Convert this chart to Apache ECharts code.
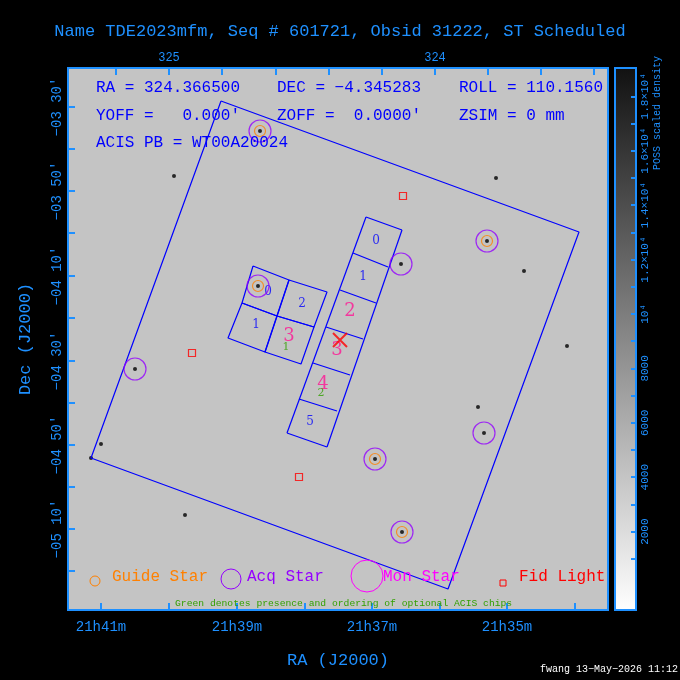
<!DOCTYPE html>
<html>
<head>
<meta charset="utf-8">
<script src="https://cdn.jsdelivr.net/npm/echarts@6/dist/echarts.min.js"></script>
<style>
  html, body { margin: 0; padding: 0; background: #000; }
  #chart { width: 680px; height: 680px; }
</style>
</head>
<body>
<div id="chart"></div>
<script>
// everything below is in image-pixel units of the plot (0,0 = top-left of the field)
const OX = 68, OY = 68;
const px = (p) => [p[0] - OX, p[1] - OY];

// field of view outline
const fovBox = [[221, 101], [579, 232], [448, 589], [91, 458]];

// ACIS-I chips (0,2 top row; 1,3 bottom row)
const acisI = [
  [[253, 266], [289, 280], [277, 316], [242, 303]],
  [[242, 303], [277, 316], [265, 352], [228, 338]],
  [[289, 280], [327, 292], [314, 327], [277, 316]],
  [[277, 316], [314, 327], [301, 364], [265, 352]],
];
// ACIS-S strip dividers (left, right) from chip 0 top to chip 5 bottom
const acisSEdges = [
  [[366, 217], [402, 230]],
  [[353, 253], [388, 267]],
  [[340, 290], [376, 303]],
  [[326, 327], [363, 339]],
  [[313, 363], [350, 375]],
  [[299, 399], [337, 411]],
  [[287, 433], [327, 447]],
];

const chipLabels = [
  { name: "0", at: [268, 292], color: "#0000ff", size: 12 },
  { name: "2", at: [302, 304], color: "#0000ff", size: 12 },
  { name: "1", at: [256, 325], color: "#0000ff", size: 12 },
  { name: "3", at: [289, 336], color: "#ff1493", size: 18 },
  { name: "1", at: [286, 347], color: "#32a000", size: 11 },
  { name: "0", at: [376, 241], color: "#0000ff", size: 12 },
  { name: "1", at: [363, 277], color: "#0000ff", size: 12 },
  { name: "2", at: [350, 311], color: "#ff1493", size: 18 },
  { name: "3", at: [337, 350], color: "#ff1493", size: 18 },
  { name: "4", at: [323, 384], color: "#ff1493", size: 18 },
  { name: "2", at: [321, 393], color: "#32a000", size: 11 },
  { name: "5", at: [310, 422], color: "#0000ff", size: 12 },
];

const acqStars = [[260, 131], [487, 241], [401, 264], [258, 286], [135, 369], [484, 433], [375, 459], [402, 532]];
const guideStars = [[260, 131], [487, 241], [258, 286], [375, 459], [402, 532]];
const fidLights = [[403, 196], [192, 353], [299, 477]];
const aimPoint = [[340, 340]];
const brightStars = [[260, 131], [487, 241], [258, 286], [375, 459], [402, 532], [567, 346], [91, 458], [101, 444], [135, 369], [401, 264], [484, 433], [496, 178], [174, 176], [478, 407], [185, 515], [524, 271]];

// axis ticks (pixel positions) and labels
const raTicks = [101, 237, 372, 507];
const raMinor = [169, 305, 440, 575];
const raLabels = ["21h41m", "21h39m", "21h37m", "21h35m"];
const raDegTicks = [169, 435];
const raDegMinor = [116, 222, 276, 329, 382, 488, 541, 594];
const raDegLabels = ["325", "324"];
const decTicks = [107, 191, 276, 361, 445, 529];
const decMinor = [149, 233, 318, 403, 487, 571];
const decLabels = ["−03 30'", "−03 50'", "−04 10'", "−04 30'", "−04 50'", "−05 10'"];
const cbTicks = [2000, 4000, 6000, 8000, 10000, 12000, 14000, 16000, 18000];
const cbMinor = [1000, 3000, 5000, 7000, 9000, 11000, 13000, 15000, 17000];
const cbLabels = ["2000", "4000", "6000", "8000", "10⁴", "1.2×10⁴", "1.4×10⁴", "1.6×10⁴", "1.8×10⁴"];

const AXC = "#1e90ff";
const MONO = "Liberation Mono";

function poly(pts, color) {
  const d = pts.concat([pts[0]]).map(px);
  return { type: "line", data: d, symbol: "none", silent: true, z: 3,
    lineStyle: { color: color, width: 1.2 } };
}
function seg(a, b) {
  return { type: "line", data: [px(a), px(b)], symbol: "none", silent: true, z: 3,
    lineStyle: { color: "#0000ff", width: 1.2 } };
}

const series = [];
series.push({ type: "scatter", data: brightStars.map(px), symbolSize: 4,
  itemStyle: { color: "#000" }, z: 2, silent: true });
series.push(poly(fovBox, "#0000ff"));
acisI.forEach((c) => series.push(poly(c, "#0000ff")));
const first = acisSEdges[0], last = acisSEdges[acisSEdges.length - 1];
series.push(seg(first[0], last[0]));
series.push(seg(first[1], last[1]));
acisSEdges.forEach((e) => series.push(seg(e[0], e[1])));

chipLabels.forEach((c) => {
  series.push({ type: "scatter", data: [px(c.at)], symbolSize: 0, z: 4, silent: true,
    label: { show: true, position: "inside", formatter: c.name, color: c.color,
      fontSize: c.size, fontFamily: "DejaVu Serif" } });
});
series.push({ type: "scatter", data: acqStars.map(px), symbol: "circle", symbolSize: 22, z: 5,
  itemStyle: { color: "transparent", borderColor: "#9400ff", borderWidth: 1.2 } });
series.push({ type: "scatter", data: guideStars.map(px), symbol: "circle", symbolSize: 11, z: 5,
  itemStyle: { color: "transparent", borderColor: "#ff8000", borderWidth: 1.2 } });
series.push({ type: "scatter", data: fidLights.map(px), symbol: "rect", symbolSize: 7, z: 5,
  itemStyle: { color: "transparent", borderColor: "#ff0000", borderWidth: 1.2 } });
series.push({ type: "scatter", data: aimPoint.map(px), symbol: "path://M0,0L10,10M10,0L0,10", symbolSize: 14, z: 6,
  itemStyle: { color: "transparent", borderColor: "#ff0000", borderWidth: 2 } });
series.push({ type: "scatter", xAxisIndex: 2, yAxisIndex: 1, data: [], silent: true });

function ticks(major, minor, off) {
  return { show: true, inside: true, length: 7,
    customValues: major.concat(minor).map((v) => v - off),
    lineStyle: { color: AXC, width: 2 } };
}
const noLine = { show: false, onZero: false };

const chart = echarts.init(document.getElementById("chart"));
chart.setOption({
  backgroundColor: "#000",
  animation: false,
  grid: [
    { left: 68, top: 68, width: 540, height: 542, show: true, backgroundColor: "#c4c4c4",
      borderColor: AXC, borderWidth: 2 },
    { left: 615, top: 68, width: 21, height: 542, show: true, borderColor: AXC, borderWidth: 2,
      backgroundColor: new echarts.graphic.LinearGradient(0, 0, 0, 1, [
        { offset: 0, color: "#111" }, { offset: 1, color: "#fff" }]) },
  ],
  xAxis: [
    { type: "value", gridIndex: 0, min: 0, max: 540, position: "bottom",
      axisLine: noLine, splitLine: { show: false },
      axisTick: ticks(raTicks, raMinor, OX),
      axisLabel: { customValues: raTicks.map((v) => v - OX), color: AXC, fontFamily: MONO, fontSize: 14, margin: 10,
        formatter: (v) => raLabels[raTicks.indexOf(v + OX)] },
      name: "RA (J2000)", nameLocation: "middle", nameGap: 42,
      nameTextStyle: { color: AXC, fontFamily: MONO, fontSize: 17 } },
    { type: "value", gridIndex: 0, min: 0, max: 540, position: "top",
      axisLine: noLine, splitLine: { show: false },
      axisTick: ticks(raDegTicks, raDegMinor, OX),
      axisLabel: { customValues: raDegTicks.map((v) => v - OX), color: AXC, fontFamily: MONO, fontSize: 12, margin: 4,
        formatter: (v) => raDegLabels[raDegTicks.indexOf(v + OX)] } },
    { type: "value", gridIndex: 1, min: 0, max: 1, show: false },
  ],
  yAxis: [
    { type: "value", gridIndex: 0, min: 0, max: 542, inverse: true, position: "left",
      axisLine: noLine, splitLine: { show: false },
      axisTick: ticks(decTicks, decMinor, OY),
      axisLabel: { customValues: decTicks.map((v) => v - OY), color: AXC, fontFamily: MONO, fontSize: 14, rotate: 90, margin: 4,
        formatter: (v) => decLabels[decTicks.indexOf(v + OY)] },
      name: "Dec (J2000)", nameLocation: "middle", nameGap: 34, nameRotate: 90,
      nameTextStyle: { color: AXC, fontFamily: MONO, fontSize: 17 } },
    { type: "value", gridIndex: 1, min: -880, max: 19040, position: "right",
      axisLine: noLine, splitLine: { show: false },
      axisTick: { show: true, inside: true, length: 5, customValues: cbTicks.concat(cbMinor), lineStyle: { color: AXC, width: 2 } },
      axisLabel: { customValues: cbTicks, color: AXC, fontFamily: MONO, fontSize: 11, rotate: 90, margin: 4,
        formatter: (v) => cbLabels[cbTicks.indexOf(v)] } },
  ],
  title: {
    text: "Name TDE2023mfm, Seq # 601721, Obsid 31222, ST Scheduled",
    left: "center", top: 18,
    textStyle: { color: AXC, fontFamily: MONO, fontSize: 17, fontWeight: "normal" },
  },
  graphic: [
    ...[
      ["RA = 324.366500", 96, 90], ["DEC = −4.345283", 277, 90], ["ROLL = 110.1560", 459, 90],
      ["YOFF =   0.000'", 96, 118], ["ZOFF =  0.0000'", 277, 118], ["ZSIM = 0 mm", 459, 118],
      ["ACIS PB = WT00A20024", 96, 145],
    ].map((t) => ({ type: "text", left: t[1], top: t[2] - 10, z: 10,
      style: { text: t[0], fill: "#0000ff", font: "16px " + MONO } })),
    { type: "text", x: 652, y: 170, rotation: Math.PI / 2, z: 10,
      style: { text: "POSS scaled density", fill: AXC, font: "10px " + MONO } },
    { type: "circle", shape: { cx: 95, cy: 581, r: 5 }, z: 10, style: { fill: "none", stroke: "#ff8000" } },
    { type: "text", left: 112, top: 569, z: 10, style: { text: "Guide Star", fill: "#ff8000", font: "16px " + MONO } },
    { type: "circle", shape: { cx: 231, cy: 579, r: 10 }, z: 10, style: { fill: "none", stroke: "#9400ff" } },
    { type: "text", left: 247, top: 569, z: 10, style: { text: "Acq Star", fill: "#9400ff", font: "16px " + MONO } },
    { type: "circle", shape: { cx: 367, cy: 576, r: 16 }, z: 10, style: { fill: "none", stroke: "#ff00ff" } },
    { type: "text", left: 383, top: 569, z: 10, style: { text: "Mon Star", fill: "#ff00ff", font: "16px " + MONO } },
    { type: "rect", shape: { x: 500, y: 580, width: 6, height: 6 }, z: 10, style: { fill: "none", stroke: "#ff0000" } },
    { type: "text", left: 519, top: 569, z: 10, style: { text: "Fid Light", fill: "#ff0000", font: "16px " + MONO } },
    { type: "text", left: 175, top: 598, z: 10,
      style: { text: "Green denotes presence and ordering of optional ACIS chips", fill: "#32a000", font: "9.7px " + MONO } },
    { type: "text", right: 2, top: 664, z: 10, style: { text: "fwang 13−May−2026 11:12", fill: "#fff", font: "10px " + MONO } },
  ],
  series: series,
});
</script>
</body>
</html>
